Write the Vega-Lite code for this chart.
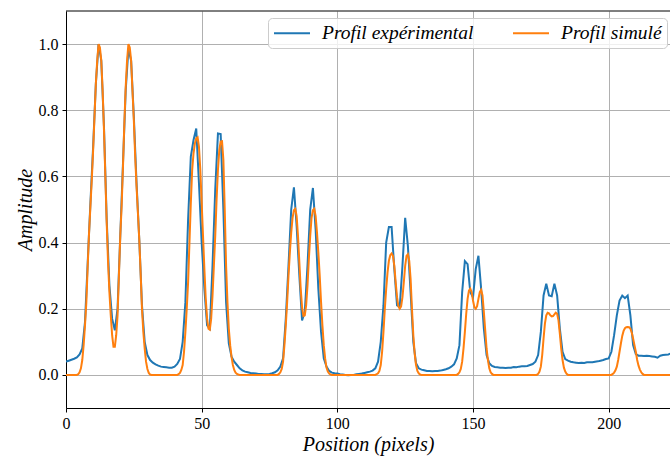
{
"$schema": "https://vega.github.io/schema/vega-lite/v6.json",
"width": 604, "height": 397,
"autosize": "none",
"padding": {"left": 66, "top": 11, "right": 0, "bottom": 49},
"background": "white",
"config": {"view": {"stroke": null}, "font": "Liberation Serif"},
"datasets": {
"exp": [
{"x":0,"y":0.040},{"x":1,"y":0.043},{"x":2,"y":0.046},{"x":3,"y":0.049},{"x":4,"y":0.053},{"x":5,"y":0.062},{"x":6,"y":0.08},{"x":7,"y":0.16},{"x":8,"y":0.34},{"x":9,"y":0.52},
{"x":10,"y":0.69},{"x":11,"y":0.88},{"x":12,"y":1.0},{"x":13,"y":0.95},{"x":14,"y":0.75},{"x":15,"y":0.47},{"x":16,"y":0.27},{"x":17,"y":0.17},{"x":18,"y":0.135},{"x":19,"y":0.2},
{"x":20,"y":0.42},{"x":21,"y":0.64},{"x":22,"y":0.86},{"x":23,"y":0.985},{"x":24,"y":0.95},{"x":25,"y":0.78},{"x":26,"y":0.58},{"x":27,"y":0.41},{"x":28,"y":0.21},{"x":29,"y":0.1},
{"x":30,"y":0.06},{"x":31,"y":0.045},{"x":32,"y":0.037},{"x":33,"y":0.032},{"x":34,"y":0.028},{"x":35,"y":0.025},{"x":36,"y":0.024},{"x":37,"y":0.023},{"x":38,"y":0.022},{"x":39,"y":0.022},
{"x":40,"y":0.025},{"x":41,"y":0.033},{"x":42,"y":0.048},{"x":43,"y":0.1},{"x":44,"y":0.22},{"x":45,"y":0.47},{"x":46,"y":0.66},{"x":47,"y":0.71},{"x":48,"y":0.745},{"x":49,"y":0.58},
{"x":50,"y":0.4},{"x":51,"y":0.26},{"x":52,"y":0.15},{"x":53,"y":0.14},{"x":54,"y":0.33},{"x":55,"y":0.56},{"x":56,"y":0.73},{"x":57,"y":0.728},{"x":58,"y":0.5},{"x":59,"y":0.22},
{"x":60,"y":0.095},{"x":61,"y":0.055},{"x":62,"y":0.04},{"x":63,"y":0.03},{"x":64,"y":0.02},{"x":65,"y":0.014},{"x":66,"y":0.01},{"x":67,"y":0.008},{"x":68,"y":0.006},{"x":69,"y":0.005},
{"x":70,"y":0.004},{"x":71,"y":0.003},{"x":72,"y":0.003},{"x":73,"y":0.002},{"x":74,"y":0.002},{"x":75,"y":0.003},{"x":76,"y":0.005},{"x":77,"y":0.008},{"x":78,"y":0.014},{"x":79,"y":0.025},
{"x":80,"y":0.05},{"x":81,"y":0.17},{"x":82,"y":0.33},{"x":83,"y":0.5},{"x":84,"y":0.567},{"x":85,"y":0.45},{"x":86,"y":0.3},{"x":87,"y":0.165},{"x":88,"y":0.19},{"x":89,"y":0.33},
{"x":90,"y":0.5},{"x":91,"y":0.565},{"x":92,"y":0.44},{"x":93,"y":0.26},{"x":94,"y":0.13},{"x":95,"y":0.05},{"x":96,"y":0.025},{"x":97,"y":0.012},{"x":98,"y":0.007},{"x":99,"y":0.005},
{"x":100,"y":0.004},{"x":101,"y":0.002},{"x":102,"y":0.001},{"x":103,"y":0.0},{"x":104,"y":-0.001},{"x":105,"y":0.0},{"x":106,"y":0.0},{"x":107,"y":0.002},{"x":108,"y":0.003},{"x":109,"y":0.004},
{"x":110,"y":0.006},{"x":111,"y":0.008},{"x":112,"y":0.01},{"x":113,"y":0.013},{"x":114,"y":0.02},{"x":115,"y":0.04},{"x":116,"y":0.1},{"x":117,"y":0.21},{"x":118,"y":0.4},{"x":119,"y":0.447},
{"x":120,"y":0.447},{"x":121,"y":0.32},{"x":122,"y":0.21},{"x":123,"y":0.206},{"x":124,"y":0.33},{"x":125,"y":0.475},{"x":126,"y":0.39},{"x":127,"y":0.25},{"x":128,"y":0.1},{"x":129,"y":0.035},
{"x":130,"y":0.02},{"x":131,"y":0.016},{"x":132,"y":0.014},{"x":133,"y":0.012},{"x":134,"y":0.012},{"x":135,"y":0.011},{"x":136,"y":0.012},{"x":137,"y":0.012},{"x":138,"y":0.013},{"x":139,"y":0.015},
{"x":140,"y":0.017},{"x":141,"y":0.02},{"x":142,"y":0.025},{"x":143,"y":0.032},{"x":144,"y":0.05},{"x":145,"y":0.09},{"x":146,"y":0.25},{"x":147,"y":0.344},{"x":148,"y":0.335},{"x":149,"y":0.25},
{"x":150,"y":0.235},{"x":151,"y":0.32},{"x":152,"y":0.36},{"x":153,"y":0.26},{"x":154,"y":0.14},{"x":155,"y":0.06},{"x":156,"y":0.035},{"x":157,"y":0.027},{"x":158,"y":0.024},{"x":159,"y":0.023},
{"x":160,"y":0.022},{"x":161,"y":0.022},{"x":162,"y":0.021},{"x":163,"y":0.022},{"x":164,"y":0.022},{"x":165,"y":0.024},{"x":166,"y":0.023},{"x":167,"y":0.025},{"x":168,"y":0.026},{"x":169,"y":0.026},
{"x":170,"y":0.027},{"x":171,"y":0.03},{"x":172,"y":0.033},{"x":173,"y":0.04},{"x":174,"y":0.06},{"x":175,"y":0.13},{"x":176,"y":0.24},{"x":177,"y":0.276},{"x":178,"y":0.24},{"x":179,"y":0.238},
{"x":180,"y":0.276},{"x":181,"y":0.24},{"x":182,"y":0.14},{"x":183,"y":0.07},{"x":184,"y":0.048},{"x":185,"y":0.043},{"x":186,"y":0.04},{"x":187,"y":0.038},{"x":188,"y":0.037},{"x":189,"y":0.036},
{"x":190,"y":0.037},{"x":191,"y":0.036},{"x":192,"y":0.038},{"x":193,"y":0.038},{"x":194,"y":0.038},{"x":195,"y":0.04},{"x":196,"y":0.041},{"x":197,"y":0.043},{"x":198,"y":0.045},{"x":199,"y":0.048},
{"x":200,"y":0.05},{"x":201,"y":0.07},{"x":202,"y":0.12},{"x":203,"y":0.18},{"x":204,"y":0.225},{"x":205,"y":0.24},{"x":206,"y":0.232},{"x":207,"y":0.24},{"x":208,"y":0.18},{"x":209,"y":0.09},
{"x":210,"y":0.063},{"x":211,"y":0.058},{"x":212,"y":0.058},{"x":213,"y":0.057},{"x":214,"y":0.058},{"x":215,"y":0.057},{"x":216,"y":0.056},{"x":217,"y":0.055},{"x":218,"y":0.052},{"x":219,"y":0.058},
{"x":220,"y":0.06},{"x":221,"y":0.061},{"x":222,"y":0.062},{"x":223,"y":0.065}
],
"sim": [
{"x":0,"y":0},{"x":4,"y":0},{"x":4.5,"y":0.002},{"x":5,"y":0.008},{"x":5.5,"y":0.02},{"x":6,"y":0.045},{"x":6.5,"y":0.09},{"x":7,"y":0.15},{"x":7.5,"y":0.22},{"x":8,"y":0.33},{"x":8.5,"y":0.43},{"x":9,"y":0.51},{"x":9.5,"y":0.59},{"x":10,"y":0.68},{"x":10.5,"y":0.78},{"x":11,"y":0.88},{"x":11.5,"y":0.95},{"x":12,"y":1.0},{"x":12.5,"y":0.99},{"x":13,"y":0.95},{"x":13.5,"y":0.86},{"x":14,"y":0.74},{"x":14.5,"y":0.6},{"x":15,"y":0.46},{"x":15.5,"y":0.34},{"x":16,"y":0.25},{"x":16.5,"y":0.18},{"x":17,"y":0.12},{"x":17.5,"y":0.085},{"x":18,"y":0.085},{"x":18.5,"y":0.12},{"x":19,"y":0.18},{"x":19.5,"y":0.3},{"x":20,"y":0.42},{"x":20.5,"y":0.51},{"x":21,"y":0.63},{"x":21.5,"y":0.76},{"x":22,"y":0.87},{"x":22.5,"y":0.95},{"x":23,"y":1.0},{"x":23.5,"y":0.99},{"x":24,"y":0.95},{"x":24.5,"y":0.86},{"x":25,"y":0.77},{"x":25.5,"y":0.66},{"x":26,"y":0.57},{"x":26.5,"y":0.49},{"x":27,"y":0.41},{"x":27.5,"y":0.31},{"x":28,"y":0.2},{"x":28.5,"y":0.13},{"x":29,"y":0.08},{"x":29.5,"y":0.04},{"x":30,"y":0.018},{"x":30.5,"y":0.006},{"x":31,"y":0.001},{"x":31.5,"y":0},
{"x":41,"y":0},{"x":41.5,"y":0.002},{"x":42,"y":0.006},{"x":42.5,"y":0.015},{"x":43,"y":0.03},{"x":43.5,"y":0.07},{"x":44,"y":0.13},{"x":44.5,"y":0.2},{"x":45,"y":0.28},{"x":45.5,"y":0.4},{"x":46,"y":0.52},{"x":46.5,"y":0.62},{"x":47,"y":0.67},{"x":47.5,"y":0.7},{"x":48,"y":0.715},{"x":48.5,"y":0.718},{"x":49,"y":0.69},{"x":49.5,"y":0.62},{"x":50,"y":0.52},{"x":50.5,"y":0.42},{"x":51,"y":0.32},{"x":51.5,"y":0.23},{"x":52,"y":0.17},{"x":52.5,"y":0.14},{"x":53,"y":0.137},{"x":53.5,"y":0.17},{"x":54,"y":0.24},{"x":54.5,"y":0.33},{"x":55,"y":0.42},{"x":55.5,"y":0.53},{"x":56,"y":0.62},{"x":56.5,"y":0.68},{"x":57,"y":0.705},{"x":57.5,"y":0.706},{"x":58,"y":0.65},{"x":58.5,"y":0.5},{"x":59,"y":0.33},{"x":59.5,"y":0.22},{"x":60,"y":0.14},{"x":60.5,"y":0.09},{"x":61,"y":0.055},{"x":61.5,"y":0.03},{"x":62,"y":0.015},{"x":62.5,"y":0.007},{"x":63,"y":0.003},{"x":63.5,"y":0.001},{"x":64,"y":0},
{"x":78,"y":0},{"x":78.5,"y":0.003},{"x":79,"y":0.008},{"x":79.5,"y":0.018},{"x":80,"y":0.04},{"x":80.5,"y":0.09},{"x":81,"y":0.15},{"x":81.5,"y":0.22},{"x":82,"y":0.3},{"x":82.5,"y":0.37},{"x":83,"y":0.43},{"x":83.5,"y":0.475},{"x":84,"y":0.498},{"x":84.5,"y":0.502},{"x":85,"y":0.48},{"x":85.5,"y":0.42},{"x":86,"y":0.34},{"x":86.5,"y":0.26},{"x":87,"y":0.205},{"x":87.5,"y":0.178},{"x":88,"y":0.18},{"x":88.5,"y":0.21},{"x":89,"y":0.27},{"x":89.5,"y":0.35},{"x":90,"y":0.42},{"x":90.5,"y":0.475},{"x":91,"y":0.498},{"x":91.5,"y":0.502},{"x":92,"y":0.48},{"x":92.5,"y":0.43},{"x":93,"y":0.37},{"x":93.5,"y":0.3},{"x":94,"y":0.22},{"x":94.5,"y":0.15},{"x":95,"y":0.09},{"x":95.5,"y":0.05},{"x":96,"y":0.022},{"x":96.5,"y":0.01},{"x":97,"y":0.004},{"x":97.5,"y":0.001},{"x":98,"y":0},
{"x":114,"y":0},{"x":114.5,"y":0.002},{"x":115,"y":0.005},{"x":115.5,"y":0.012},{"x":116,"y":0.03},{"x":116.5,"y":0.07},{"x":117,"y":0.13},{"x":117.5,"y":0.2},{"x":118,"y":0.26},{"x":118.5,"y":0.31},{"x":119,"y":0.345},{"x":119.5,"y":0.362},{"x":120,"y":0.367},{"x":120.5,"y":0.36},{"x":121,"y":0.33},{"x":121.5,"y":0.28},{"x":122,"y":0.235},{"x":122.5,"y":0.207},{"x":123,"y":0.2},{"x":123.5,"y":0.207},{"x":124,"y":0.235},{"x":124.5,"y":0.28},{"x":125,"y":0.33},{"x":125.5,"y":0.36},{"x":126,"y":0.365},{"x":126.5,"y":0.345},{"x":127,"y":0.29},{"x":127.5,"y":0.2},{"x":128,"y":0.12},{"x":128.5,"y":0.065},{"x":129,"y":0.03},{"x":129.5,"y":0.012},{"x":130,"y":0.005},{"x":130.5,"y":0.001},{"x":131,"y":0},
{"x":144,"y":0},{"x":144.5,"y":0.003},{"x":145,"y":0.008},{"x":145.5,"y":0.018},{"x":146,"y":0.04},{"x":146.5,"y":0.08},{"x":147,"y":0.13},{"x":147.5,"y":0.185},{"x":148,"y":0.23},{"x":148.5,"y":0.255},{"x":149,"y":0.261},{"x":149.5,"y":0.25},{"x":150,"y":0.225},{"x":150.5,"y":0.205},{"x":151,"y":0.2},{"x":151.5,"y":0.208},{"x":152,"y":0.23},{"x":152.5,"y":0.25},{"x":153,"y":0.257},{"x":153.5,"y":0.24},{"x":154,"y":0.19},{"x":154.5,"y":0.135},{"x":155,"y":0.08},{"x":155.5,"y":0.045},{"x":156,"y":0.02},{"x":156.5,"y":0.008},{"x":157,"y":0.003},{"x":157.5,"y":0},
{"x":173.5,"y":0},{"x":174,"y":0.003},{"x":174.5,"y":0.01},{"x":175,"y":0.025},{"x":175.5,"y":0.06},{"x":176,"y":0.11},{"x":176.5,"y":0.155},{"x":177,"y":0.18},{"x":177.5,"y":0.188},{"x":178,"y":0.186},{"x":178.5,"y":0.18},{"x":179,"y":0.177},{"x":179.5,"y":0.178},{"x":180,"y":0.183},{"x":180.5,"y":0.188},{"x":181,"y":0.185},{"x":181.5,"y":0.165},{"x":182,"y":0.125},{"x":182.5,"y":0.08},{"x":183,"y":0.045},{"x":183.5,"y":0.022},{"x":184,"y":0.01},{"x":184.5,"y":0.003},{"x":185,"y":0},
{"x":201,"y":0},{"x":201.5,"y":0.003},{"x":202,"y":0.007},{"x":202.5,"y":0.014},{"x":203,"y":0.025},{"x":203.5,"y":0.045},{"x":204,"y":0.07},{"x":204.5,"y":0.095},{"x":205,"y":0.118},{"x":205.5,"y":0.133},{"x":206,"y":0.141},{"x":206.5,"y":0.144},{"x":207,"y":0.145},{"x":207.5,"y":0.144},{"x":208,"y":0.14},{"x":208.5,"y":0.128},{"x":209,"y":0.11},{"x":209.5,"y":0.09},{"x":210,"y":0.07},{"x":210.5,"y":0.045},{"x":211,"y":0.028},{"x":211.5,"y":0.016},{"x":212,"y":0.008},{"x":212.5,"y":0.003},{"x":213,"y":0},{"x":224,"y":0}
],
"top": [{"y": 1.1}]
},
"layer": [
{"data": {"name": "exp"},
 "mark": {"type": "line", "strokeWidth": 2, "clip": true},
 "encoding": {
  "x": {"field": "x", "type": "quantitative",
   "scale": {"domain": [0, 222.6], "nice": false, "zero": false},
   "axis": {"values": [0, 50, 100, 150, 200], "grid": true, "gridColor": "#b0b0b0", "gridWidth": 1,
    "domainColor": "black", "domainWidth": 1, "tickColor": "black", "tickSize": 4, "tickWidth": 1,
    "labelFontSize": 16, "labelColor": "black", "labelPadding": 3, "labelFlush": false, "labelOverlap": false,
    "title": "Position (pixels)", "titleFontSize": 20, "titleFontStyle": "italic", "titleFontWeight": "normal",
    "titleColor": "black", "titlePadding": 3}},
  "y": {"field": "y", "type": "quantitative",
   "scale": {"domain": [-0.1, 1.1], "nice": false, "zero": false},
   "axis": {"values": [0, 0.2, 0.4, 0.6, 0.8, 1.0], "format": ".1f", "grid": true, "gridColor": "#b0b0b0", "gridWidth": 1,
    "domainColor": "black", "domainWidth": 1, "tickColor": "black", "tickSize": 4, "tickWidth": 1,
    "labelFontSize": 16, "labelColor": "black", "labelPadding": 4, "labelFlush": false, "labelOverlap": false,
    "title": "Amplitude", "titleFontSize": 20, "titleFontStyle": "italic", "titleFontWeight": "normal",
    "titleColor": "black", "titlePadding": 3}},
  "color": {"datum": "Profil expérimental", "type": "nominal",
   "scale": {"domain": ["Profil expérimental", "Profil simulé"], "range": ["#1f77b4", "#ff7f0e"]},
   "legend": {"title": null, "orient": "none", "legendX": 202, "legendY": 7, "direction": "horizontal",
    "symbolType": "M-1,0H3", "symbolSize": 324, "symbolStrokeWidth": 2,
    "labelFontSize": 19.5, "labelFontStyle": "italic", "labelColor": "black", "labelLimit": 300,
    "labelOffset": 29, "columnPadding": 35, "padding": 5,
    "strokeColor": "#cccccc", "fillColor": "rgba(255,255,255,0.8)", "cornerRadius": 4}}
 }},
{"data": {"name": "sim"},
 "mark": {"type": "line", "strokeWidth": 2, "clip": true},
 "encoding": {
  "x": {"field": "x", "type": "quantitative"},
  "y": {"field": "y", "type": "quantitative"},
  "color": {"datum": "Profil simulé", "type": "nominal"}
 }},
{"data": {"name": "top"},
 "mark": {"type": "rule", "color": "black", "strokeWidth": 1},
 "encoding": {"y": {"field": "y", "type": "quantitative"}}}
]
}
